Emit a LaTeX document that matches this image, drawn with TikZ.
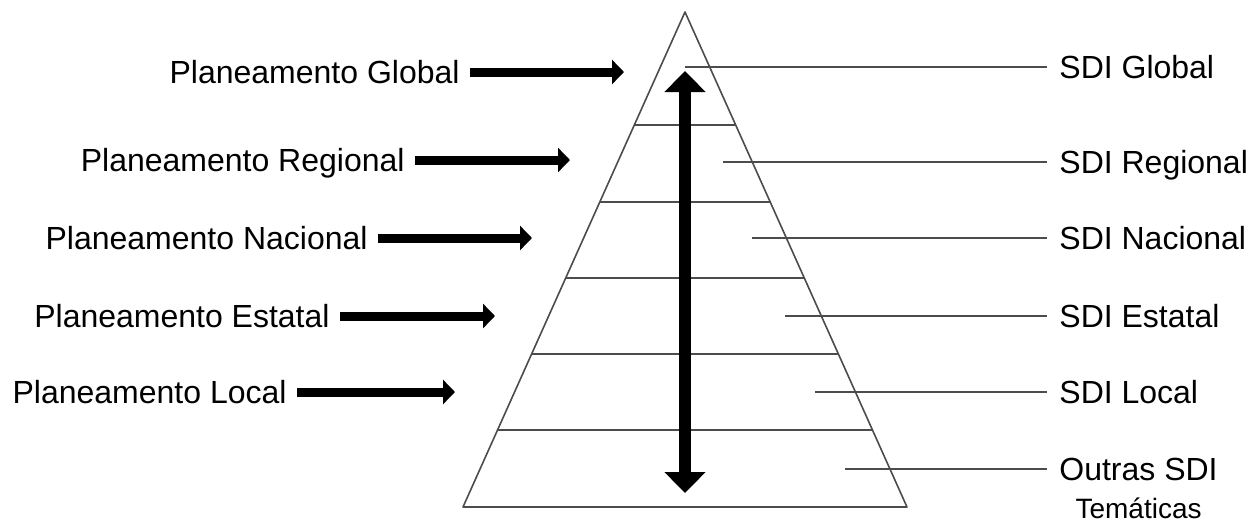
\documentclass[tikz,border=0pt]{standalone}
\usepackage{fontspec}
\setmainfont{Liberation Sans}
\usetikzlibrary{arrows.meta}
\tikzset{>={Triangle[length=6pt,width=12pt]},
  planlabel/.style={anchor=east,inner xsep=5pt,inner ysep=0pt,text height=11.5pt,text depth=0pt,font=\fontsize{16}{19}\selectfont},
  sdilabel/.style={anchor=west,inner xsep=6pt,inner ysep=0pt,text height=11.5pt,text depth=0pt,font=\fontsize{16}{19}\selectfont},
  planarrow/.style={->,line width=4.5pt},
  level/.style={draw=black!70,line width=0.8pt},
}

\begin{document}
\begin{tikzpicture}[x=0.5pt,y=-0.5pt]
    \useasboundingbox (0,0) rectangle (1255,526);
    % pyramid
    \draw[level,line join=round] (685,12) -- (907,507) -- (463,507) -- cycle;
    \foreach \y in {125,202,278,354,430}
      \draw[level] ({685-(\y-12)*0.4485},\y) -- ({685+(\y-12)*0.4485},\y);
    % up and down arrow
    \coordinate (top) at (685,71);
    \coordinate (bottom) at (685,493);
    \draw[{Triangle[length=10.5pt,width=20pt]}-{Triangle[length=10.5pt,width=20pt]},line width=6pt] (top) -- (bottom);

    % planning levels
    \node[planlabel] (pglobal) at (470,72) {Planeamento Global};
    \node[planlabel] (pregional) at (415,160) {Planeamento Regional};
    \node[planlabel] (pnacional) at (378,238) {Planeamento Nacional};
    \node[planlabel] (pestatal) at (340,316) {Planeamento Estatal};
    \node[planlabel] (plocal) at (297,392) {Planeamento Local};
    \coordinate (tglobal) at (624,72);
    \coordinate (tregional) at (570,160);
    \coordinate (tnacional) at (532,238);
    \coordinate (testatal) at (495,316);
    \coordinate (tlocal) at (455,392);
    \draw[planarrow] (pglobal) -- (tglobal);
    \draw[planarrow] (pregional) -- (tregional);
    \draw[planarrow] (pnacional) -- (tnacional);
    \draw[planarrow] (pestatal) -- (testatal);
    \draw[planarrow] (plocal) -- (tlocal);

    % sdi levels
    \node[sdilabel] (sglobal) at (1047,67) {SDI Global};
    \node[sdilabel] (sregional) at (1047,162) {SDI Regional};
    \node[sdilabel] (snacional) at (1047,238) {SDI Nacional};
    \node[sdilabel] (sestatal) at (1047,316) {SDI Estatal};
    \node[sdilabel] (slocal) at (1047,392) {SDI Local};
    \node[sdilabel] (soutras) at (1047,469) {Outras SDI};
    \node[anchor=north,inner sep=0pt,yshift=-8.5pt,font=\fontsize{14}{17}\selectfont] (tematicas) at (soutras.south) {Temáticas};
    \coordinate (lglobal) at (685,67);
    \coordinate (lregional) at (723,162);
    \coordinate (lnacional) at (752,238);
    \coordinate (lestatal) at (785,316);
    \coordinate (llocal) at (815,392);
    \coordinate (loutras) at (845,469);
    \draw[level] (lglobal) -- (sglobal);
    \draw[level] (lregional) -- (sregional);
    \draw[level] (lnacional) -- (snacional);
    \draw[level] (lestatal) -- (sestatal);
    \draw[level] (llocal) -- (slocal);
    \draw[level] (loutras) -- (soutras);
\end{tikzpicture}
\end{document}
